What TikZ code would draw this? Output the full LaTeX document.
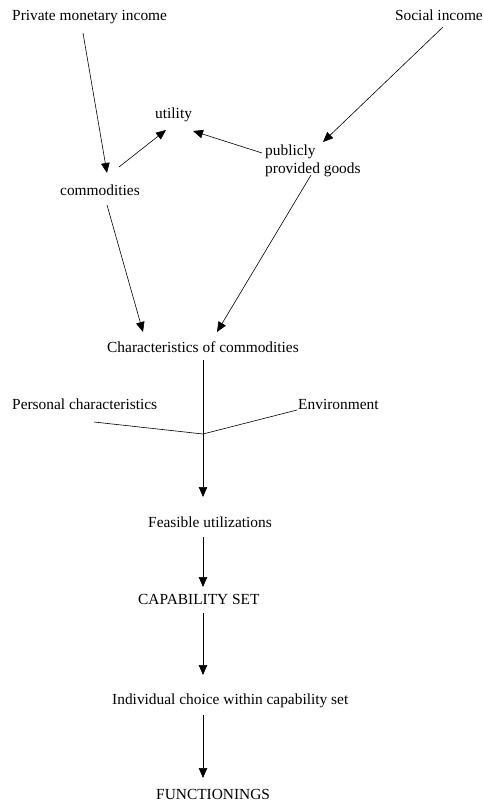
\documentclass[tikz,border=0pt]{standalone}
\usepackage{fontspec}
\setmainfont{Liberation Serif}
\usetikzlibrary{arrows.meta, positioning, calc}
\tikzset{
    txt/.style={inner sep=0pt, font=\fontsize{15.4}{18.5}\selectfont},
    lbl/.style={txt, text height=10.5pt, text depth=3.3pt, anchor=base west},
    flow/.style={-{Triangle[length=10pt, width=8.5pt]}, line width=0.6pt},
    link/.style={line width=0.6pt}
}

\begin{document}
\begin{tikzpicture}[x=1pt, y=-1pt]
    \useasboundingbox (0,0) rectangle (483,805);

    % Income and goods
    \node[lbl] (priv) at (12,21) {Private monetary income};
    \node[lbl, anchor=base east] (soc) at (483,21) {Social income};
    \node[lbl] (util) at (155,119) {utility};
    \node[txt, align=left, anchor=north west] (pub) at (265,144.5) {publicly\\provided goods};
    \node[lbl] (comm) at (60,195) {commodities};
    \node[lbl] (chars) at (107,352) {Characteristics of commodities};

    % Conversion and choice
    \node[lbl] (pers) at (12,409.5) {Personal characteristics};
    \node[lbl] (env) at (298,409.5) {Environment};
    \coordinate (merge) at (203,434);
    \node[lbl] (feas) at (148,527) {Feasible utilizations};
    \node[lbl] (cap) at (138,604) {CAPABILITY SET};
    \node[lbl] (indiv) at (112,704) {Individual choice within capability set};
    \node[lbl] (func) at (156,799) {FUNCTIONINGS};

    % Flows
    \draw[flow] ([shift={(71,12)}]priv.base west) -- ([shift={(47,-22)}]comm.base west);
    \draw[flow] ([shift={(59,-28)}]comm.base west) -- ([shift={(11,11)}]util.base west);
    \draw[flow] ([shift={(-3,8.5)}]pub.north west) -- ([shift={(38,12)}]util.base west);
    \draw[flow] ([shift={(-40,6)}]soc.base east) -- ([shift={(58,-2.5)}]pub.north west);
    \draw[flow] ([shift={(47,10)}]comm.base west) -- ([shift={(36,-20)}]chars.base west);
    \draw[flow] ([shift={(46,30.5)}]pub.north west) -- ([shift={(110,-20)}]chars.base west);
    \draw[link] ([shift={(82,12.5)}]pers.base west) -- (merge) -- ([shift={(-1,0.5)}]env.base west);
    \draw[flow] ([shift={(96,8)}]chars.base west) -- ([shift={(55,-30)}]feas.base west);
    \draw[flow] ([shift={(55,10)}]feas.base west) -- ([shift={(65,-17)}]cap.base west);
    \draw[flow] ([shift={(65,9)}]cap.base west) -- ([shift={(91,-29)}]indiv.base west);
    \draw[flow] ([shift={(91,11)}]indiv.base west) -- ([shift={(47,-21)}]func.base west);
\end{tikzpicture}
\end{document}
